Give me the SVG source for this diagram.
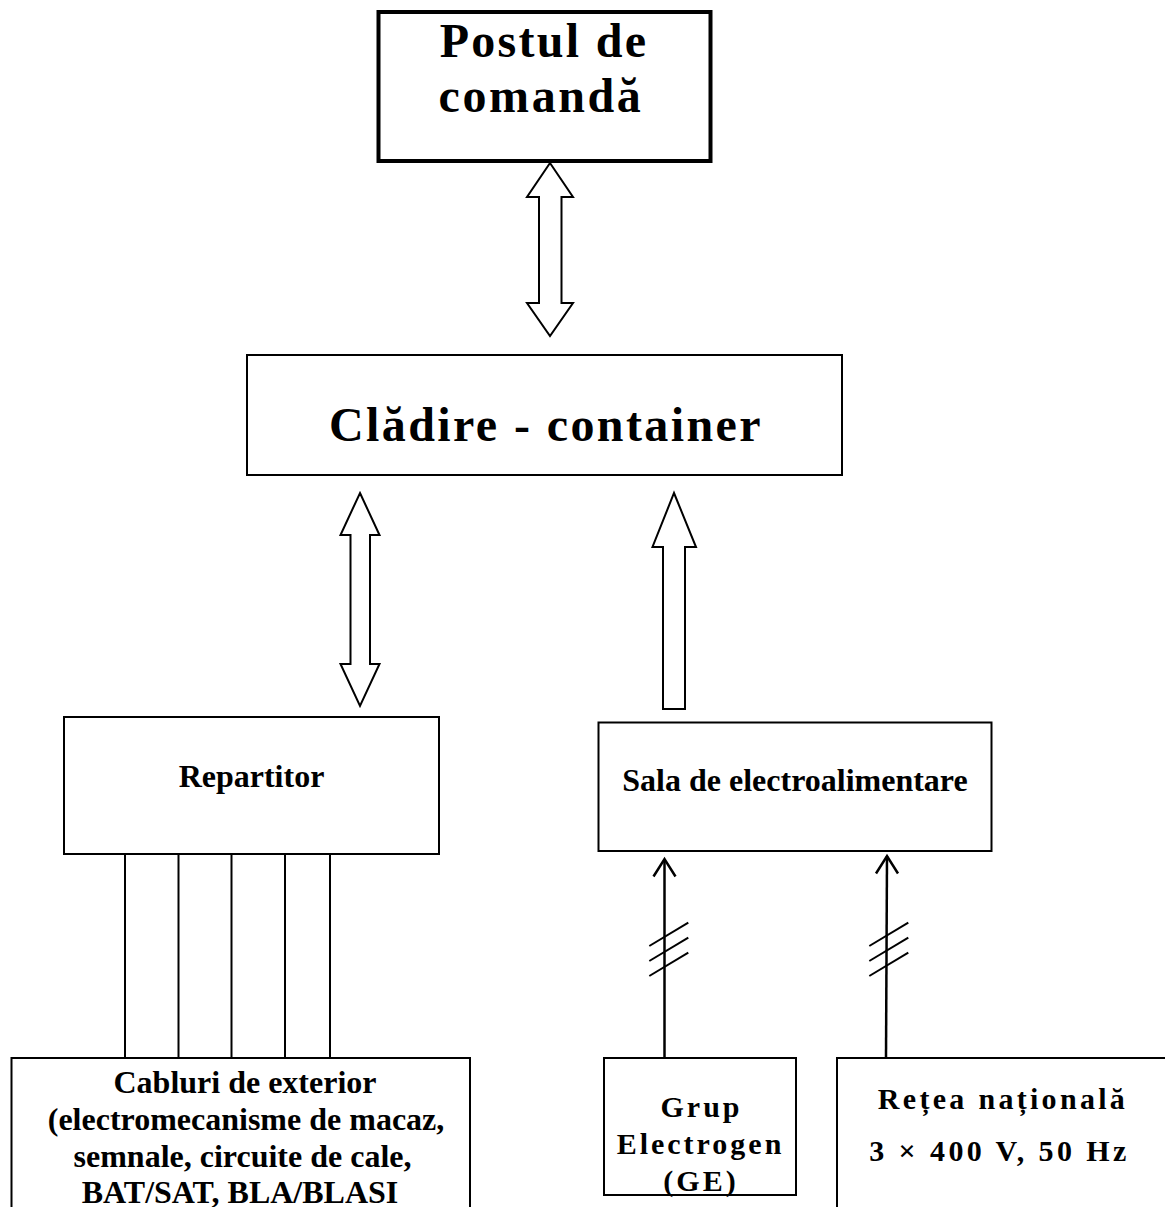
<svg xmlns="http://www.w3.org/2000/svg" width="1165" height="1207" viewBox="0 0 1165 1207">
<style>
.box{fill:#fff;stroke:#000;stroke-width:2}
.t{font-family:"Liberation Serif","Times New Roman",serif;font-weight:bold;fill:#000;text-anchor:middle}
.ln{stroke:#000;stroke-width:2;fill:none}
.ar{fill:#fff;stroke:#000;stroke-width:2;stroke-linejoin:miter}
.aw{stroke:#000;stroke-width:2.5;fill:none}
</style>
<rect width="1165" height="1207" fill="#fff"/>
<g id="connectors">
<polygon class="ar" points="550,163 573,197 561.5,197 561.5,303 573,303 550,336 527,303 539,303 539,197 527,197"/>
<polygon class="ar" points="360,493 379.5,535 370,535 370,664 379.5,664 360,706 340.5,664 350.5,664 350.5,535 340.5,535"/>
<polygon class="ar" points="674,493 696,547 685,547 685,709 663,709 663,547 652.5,547"/>
<line class="ln" x1="125" y1="854" x2="125" y2="1058"/>
<line class="ln" x1="178.5" y1="854" x2="178.5" y2="1058"/>
<line class="ln" x1="231.5" y1="854" x2="231.5" y2="1058"/>
<line class="ln" x1="285" y1="854" x2="285" y2="1058"/>
<line class="ln" x1="330" y1="854" x2="330" y2="1058"/>
<line class="aw" x1="664.5" y1="1058" x2="664.5" y2="859"/>
<polyline class="aw" points="653.5,876.5 664.5,859 675.5,876.5"/>
<line class="ln" x1="649.3" y1="946" x2="688.3" y2="922.7"/>
<line class="ln" x1="649.3" y1="961" x2="688.3" y2="937.7"/>
<line class="ln" x1="649.3" y1="976" x2="688.3" y2="952.7"/>
<line class="aw" x1="886" y1="1058" x2="887" y2="856"/>
<polyline class="aw" points="876,873.5 887,856 898,873.5"/>
<line class="ln" x1="869.3" y1="946" x2="908.3" y2="922.7"/>
<line class="ln" x1="869.3" y1="961" x2="908.3" y2="937.7"/>
<line class="ln" x1="869.3" y1="976" x2="908.3" y2="952.7"/>
</g>
<g id="postul">
<rect x="378.5" y="12" width="332" height="149" fill="#fff" stroke="#000" stroke-width="4"/>
<text class="t" x="544" y="57" font-size="48" letter-spacing="2.3">Postul de</text>
<text class="t" x="541" y="112" font-size="48" letter-spacing="2.6">comandă</text>
</g>
<g id="cladire">
<rect class="box" x="247" y="355" width="595" height="120"/>
<text class="t" x="546" y="441" font-size="48" letter-spacing="2.4">Clădire - container</text>
</g>
<g id="repartitor">
<rect class="box" x="64" y="717" width="375" height="137"/>
<text class="t" x="251.5" y="787" font-size="32">Repartitor</text>
</g>
<g id="sala">
<rect class="box" x="598.5" y="722.5" width="393" height="128.5"/>
<text class="t" x="795" y="791" font-size="32">Sala de electroalimentare</text>
</g>
<g id="cabluri">
<rect class="box" x="11.5" y="1058" width="458.5" height="200"/>
<text class="t" x="245" y="1093" font-size="32">Cabluri de exterior</text>
<text class="t" x="246" y="1130" font-size="32">(electromecanisme de macaz,</text>
<text class="t" x="242.5" y="1167" font-size="32">semnale, circuite de cale,</text>
<text class="t" x="240" y="1203" font-size="32">BAT/SAT, BLA/BLASI</text>
</g>
<g id="grup">
<rect class="box" x="604" y="1058" width="192" height="137"/>
<text class="t" x="701.5" y="1117" font-size="30" letter-spacing="3">Grup</text>
<text class="t" x="700.5" y="1154" font-size="30" letter-spacing="3">Electrogen</text>
<text class="t" x="701" y="1191" font-size="30" letter-spacing="3">(GE)</text>
</g>
<g id="retea">
<rect class="box" x="837" y="1058" width="360" height="200"/>
<text class="t" x="1003" y="1109" font-size="30" letter-spacing="3.3">Rețea națională</text>
<text class="t" x="999.5" y="1161" font-size="30" letter-spacing="3.4">3 × 400 V, 50 Hz</text>
</g>
</svg>
